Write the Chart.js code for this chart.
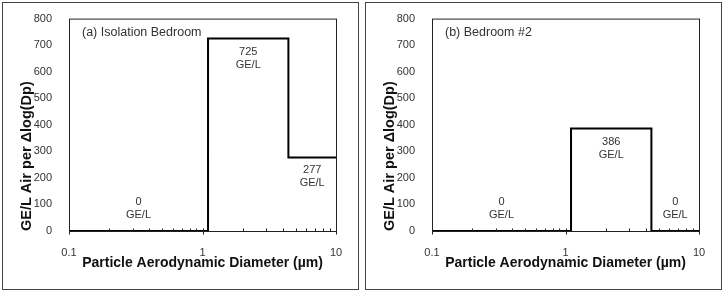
<!DOCTYPE html>
<html>
<head>
<meta charset="utf-8">
<script src="https://cdn.jsdelivr.net/npm/chart.js@4/dist/chart.umd.min.js"></script>
<style>
  html, body { margin: 0; padding: 0; background: #fff; }
  body { width: 724px; height: 292px; position: relative; overflow: hidden; }
  .panel { position: absolute; top: 2px; width: 357px; height: 288px; box-sizing: border-box; border: 1px solid #444; background: #fff; }
  .panel canvas { position: absolute; left: 0; top: 0; }
</style>
</head>
<body>
<div class="panel" style="left:2px"><canvas id="c1" width="355" height="286"></canvas></div>
<div class="panel" style="left:365px"><canvas id="c2" width="355" height="286"></canvas></div>
<script>
// ---- data ----
const binEdges = [0.1, 1.1, 4.4, 10];           // particle size bin edges (µm)
const isolationBedroom = [0, 725, 277];        // GE/L per Δlog(Dp)
const bedroom2 = [0, 386, 0];                  // GE/L per Δlog(Dp)
const panelTitles = ['(a) Isolation Bedroom', '(b) Bedroom #2'];
const xTickLabels = ['0.1', '1', '10'];
const yTickValues = [0, 100, 200, 300, 400, 500, 600, 700, 800];
const unitLabel = 'GE/L';
const xTitle = 'Particle Aerodynamic Diameter (\u00b5m)';
const yTitle = 'GE/L Air per \u0394log(Dp)';

Chart.defaults.font.family = '"Liberation Sans", Arial, sans-serif';
Chart.defaults.color = '#333';

function stepPoints(edges, vals) {
  const pts = [];
  vals.forEach((v, i) => {
    pts.push({x: edges[i], y: v});
    pts.push({x: edges[i + 1], y: v});
  });
  return pts;
}

const boxPlugin = {
  id: 'box',
  afterDatasetsDraw(chart) {
    const {ctx, chartArea: a, scales: {x, y}} = chart;
    ctx.save();
    ctx.strokeStyle = '#222';
    ctx.lineWidth = 1;
    ctx.strokeRect(a.left + 0.5, a.top + 0.5, a.right - a.left, a.bottom - a.top);
    const yb = a.bottom + 0.5;
    ctx.beginPath();
    for (let dec = 0.1; dec < 10; dec *= 10) {
      for (let m = 1; m <= 9; m++) {
        const v = dec * m;
        const px = Math.round(x.getPixelForValue(v)) + 0.5;
        if (m === 1) {
          ctx.moveTo(px, yb - 3); ctx.lineTo(px, yb + 3);
        } else {
          ctx.moveTo(px, yb); ctx.lineTo(px, yb - 3);
        }
      }
    }
    const p10 = Math.round(x.getPixelForValue(10)) + 0.5;
    ctx.moveTo(p10, yb - 3); ctx.lineTo(p10, yb + 3);
    ctx.stroke();
    ctx.restore();
  }
};

const labelPlugin = {
  id: 'binLabels',
  afterDatasetsDraw(chart, args, opts) {
    const {ctx, chartArea: a, scales: {x, y}} = chart;
    ctx.save();
    ctx.fillStyle = '#333';
    ctx.font = '11px "Liberation Sans", Arial, sans-serif';
    ctx.textAlign = 'center';
    ctx.textBaseline = 'middle';
    const p0 = y.getPixelForValue(0);
    opts.values.forEach((v, i) => {
      const cx = x.getPixelForValue(Math.sqrt(opts.edges[i] * opts.edges[i + 1]));
      const top = Math.min(y.getPixelForValue(v), p0 - 42);
      ctx.fillText(String(v), cx, top + 13);
      ctx.fillText(unitLabel, cx, top + 26);
    });
    ctx.textAlign = 'left';
    ctx.font = '12.5px "Liberation Sans", Arial, sans-serif';
    ctx.fillText(opts.title, a.left + 13, a.top + 14);
    ctx.restore();
  }
};

function makeChart(id, vals, title) {
  return new Chart(document.getElementById(id), {
    type: 'scatter',
    data: {
      datasets: [{
        data: stepPoints(binEdges, vals),
        showLine: true,
        borderColor: '#000',
        borderWidth: 2,
        pointRadius: 0,
        fill: false,
        clip: false,
        borderJoinStyle: 'miter'
      }]
    },
    options: {
      responsive: false,
      animation: false,
      devicePixelRatio: 1,
      layout: { padding: { top: 15, right: 22, left: 0, bottom: 0 } },
      plugins: {
        legend: { display: false },
        tooltip: { enabled: false },
        binLabels: { values: vals, edges: binEdges, title: title }
      },
      scales: {
        x: {
          type: 'logarithmic',
          min: 0.1, max: 10,
          grid: { display: false },
          border: { display: false },
          afterBuildTicks(s) { s.ticks = xTickLabels.map(t => ({value: parseFloat(t)})); },
          afterFit(s) { s.height = 58; },
          ticks: {
            autoSkip: false, maxRotation: 0, padding: 7,
            font: { size: 11 }, color: '#333',
            callback: (v, i) => xTickLabels[i]
          },
          title: {
            display: true, text: xTitle, color: '#111',
            font: { size: 14, weight: 'bold' },
            padding: { top: 0, bottom: 17 }
          }
        },
        y: {
          min: 0, max: 800,
          grid: { display: false },
          border: { display: false },
          afterBuildTicks(s) { s.ticks = yTickValues.map(v => ({value: v})); },
          afterFit(s) { s.width = 66; },
          ticks: { padding: 9, font: { size: 11 }, color: '#333' },
          title: {
            display: true, text: yTitle, color: '#111', align: 'start',
            font: { size: 14.5, weight: 'bold' },
            padding: { top: 15, bottom: 0 }
          }
        }
      }
    },
    plugins: [boxPlugin, labelPlugin]
  });
}

makeChart('c1', isolationBedroom, panelTitles[0]);
makeChart('c2', bedroom2, panelTitles[1]);
</script>
</body>
</html>
